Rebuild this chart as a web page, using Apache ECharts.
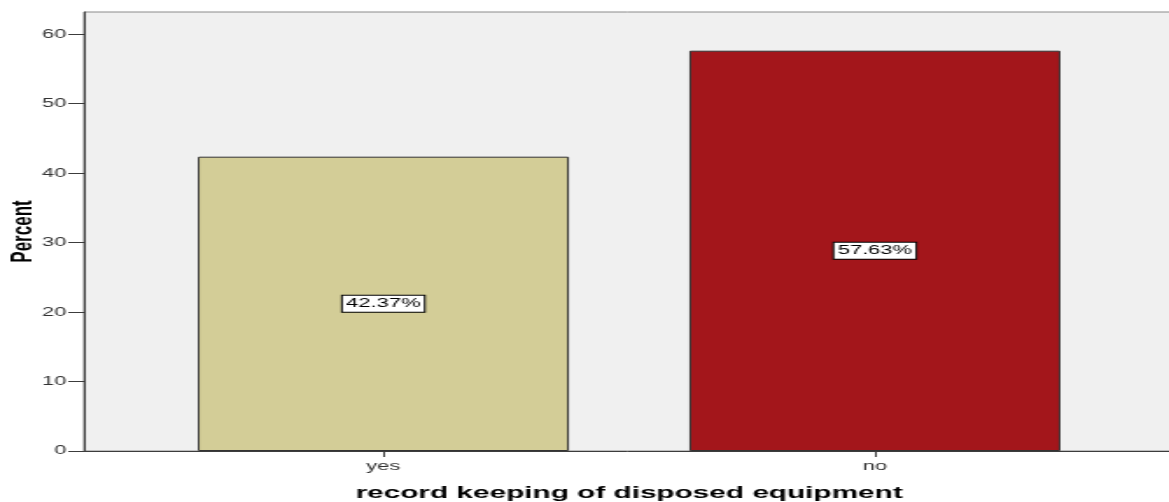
<!DOCTYPE html>
<html>
<head>
<meta charset="utf-8">
<script src="https://cdn.jsdelivr.net/npm/echarts@6/dist/echarts.min.js"></script>
<style>
  html, body { margin: 0; padding: 0; background: #fff; overflow: hidden; }
  /* the reference picture is stretched sideways, so draw narrow and stretch */
  #main { width: 668px; height: 502px; transform: scaleX(1.75); transform-origin: 0 0; }
</style>
</head>
<body>
<div id="main"></div>
<script>
// categories and values
var categories = ['yes', 'no'];
var percents = [42.37, 57.63];
var barColors = ['#d3cd97', '#a3161b'];
var yTicks = [0, 10, 20, 30, 40, 50, 60];

var myChart = echarts.init(document.getElementById('main'));

var barData = percents.map(function (v, i) {
    return {
        value: [i, v],
        itemStyle: { color: barColors[i] }
    };
});

var option = {
    animation: false,
    textStyle: { fontFamily: 'Liberation Sans' },
    grid: {
        left: 48,
        right: -3,
        top: 12,
        bottom: 51,
        outerBoundsMode: 'none',
        show: true,
        backgroundColor: '#f0f0f0',
        borderColor: '#8a8a8a',
        borderWidth: 1
    },
    // x轴：按类别序号放柱子
    xAxis: {
        type: 'value',
        min: -0.609,
        max: 1.609,
        name: 'record keeping of disposed equipment',
        nameLocation: 'middle',
        nameGap: 34,
        nameMoveOverlap: false,
        nameTextStyle: { fontFamily: 'Liberation Sans', fontWeight: 'bold', fontSize: 17, color: '#000' },
        splitLine: { show: false },
        axisLine: { show: true, onZero: false, lineStyle: { color: '#3c3c3c', width: 1 } },
        axisTick: { show: true, length: 6, customValues: [0, 1], lineStyle: { color: '#3c3c3c' } },
        axisLabel: {
            customValues: [0, 1],
            margin: 9,
            fontSize: 12.5,
            color: '#333',
            formatter: function (v) { return categories[Math.round(v)]; }
        }
    },
    yAxis: {
        type: 'value',
        min: 0,
        max: 63.2,
        name: 'Percent',
        nameLocation: 'middle',
        nameGap: 26,
        nameMoveOverlap: false,
        nameTextStyle: { fontFamily: 'Liberation Sans', fontWeight: 'bold', fontSize: 17, color: '#000' },
        splitLine: { show: false },
        axisLine: { show: true, onZero: false, lineStyle: { color: '#3c3c3c', width: 1 } },
        axisTick: { show: true, length: 9, customValues: yTicks, lineStyle: { color: '#3c3c3c' } },
        axisLabel: { customValues: yTicks, margin: 10, fontSize: 12.5, color: '#333' }
    },
    series: [
        {
            type: 'bar',
            barWidth: 212,
            data: barData,
            itemStyle: { borderColor: '#333', borderWidth: 1 },
            label: {
                show: true,
                position: 'inside',
                formatter: function (p) { return p.value[1].toFixed(2) + '%'; },
                fontFamily: 'Liberation Sans',
                fontSize: 12.5,
                color: '#000',
                backgroundColor: '#fff',
                borderColor: '#000',
                borderWidth: 1,
                padding: [2, 2, 1, 2]
            }
        }
    ]
};

myChart.setOption(option);
</script>
</body>
</html>
